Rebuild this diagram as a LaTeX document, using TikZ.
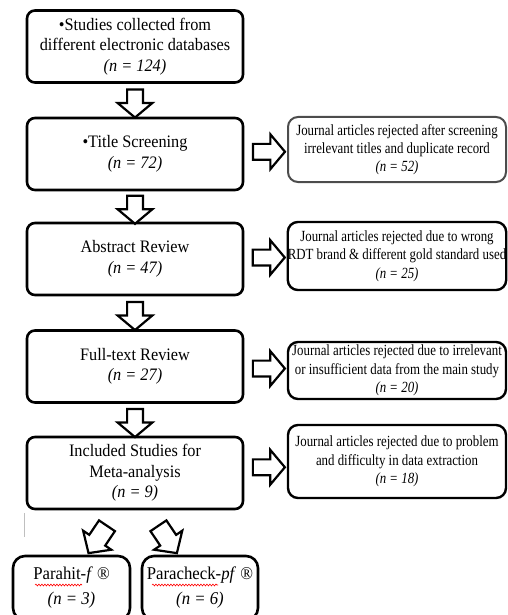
\documentclass[tikz,border=0pt]{standalone}
\usepackage{fontspec}
\usetikzlibrary{shapes.arrows,calc,decorations.pathmorphing}
\newfontfamily\mainfnt{Liberation Serif}[FakeStretch=0.93]
\newfontfamily\sidefnt{Liberation Serif}[FakeStretch=0.83]
\tikzstyle{mainbox}=[draw=black,line width=2.6pt,rounded corners=8pt,
                     minimum width=216pt,minimum height=72pt,inner sep=0pt,
                     align=center,font=\mainfnt\fontsize{17.5}{20.5}\selectfont]
\tikzstyle{sidebox}=[draw=black,line width=2.4pt,rounded corners=10pt,
                     minimum width=218pt,inner sep=0pt,
                     align=center,font=\sidefnt\fontsize{15.5}{18.3}\selectfont]
\tikzstyle{brandbox}=[draw=black,line width=2.6pt,rounded corners=12pt,
                      minimum width=117pt,minimum height=64pt,inner sep=0pt,
                      align=center,font=\mainfnt\fontsize{18}{25}\selectfont]
\tikzstyle{fatarrow}=[single arrow,draw=black,fill=white,line width=2.2pt,
                      inner xsep=0pt,inner ysep=6.8pt,minimum width=0pt,
                      single arrow head extend=9.5pt,single arrow tip angle=100,
                      single arrow head indent=0pt]
\tikzstyle{squiggle}=[draw=red,line width=0.6pt,decorate,
                      decoration={snake,amplitude=0.9pt,segment length=3pt}]

\begin{document}
\begin{tikzpicture}[x=1pt,y=-1pt]
    \newcommand{\mx}{135}
    \newcommand{\sx}{397}
    \clip (0,0) rectangle (508,615);
    % main column
    \node (b1) at (\mx, 46.5) [mainbox]{•Studies collected from\\
      different electronic databases\\\textit{(n = 124)}};
    \node (b2) at (\mx, 154) [mainbox]{•Title Screening\\\textit{(n = 72)}};
    \node (b3) at (\mx, 259) [mainbox]{Abstract Review\\\textit{(n = 47)}};
    \node (b4) at (\mx, 366.5) [mainbox]{Full-text Review\\\textit{(n = 27)}};
    \node (b5) at (\mx, 473) [mainbox]{Included Studies for\\Meta-analysis\\
      \textit{(n = 9)}};
    % excluded records
    \node (r1) at (\sx, 149.5) [sidebox,draw=black!70,line width=2pt,
      minimum height=65pt]{Journal articles rejected after screening\\
      irrelevant titles and duplicate record\\\textit{(n = 52)}};
    \node (r2) at (\sx, 256) [sidebox,minimum height=68pt]{Journal articles
      rejected due to wrong\\RDT brand \& different gold standard used\\
      \textit{(n = 25)}};
    \node (r3) at (\sx, 370.5) [sidebox,minimum height=57pt]{Journal articles
      rejected due to irrelevant\\or insufficient data from the main study\\
      \textit{(n = 20)}};
    \node (r4) at (\sx, 461.5) [sidebox,minimum height=73pt]{Journal articles
      rejected due to problem\\and difficulty in data extraction\\
      \textit{(n = 18)}};
    % RDT brands
    \node (p1) at (71.5, 588) [brandbox]{Parahit-\textit{f} ®\\\textit{(n = 3)}};
    \node (p2) at (200, 588) [brandbox,minimum width=116pt]{Paracheck-\textit{pf} ®\\
      \textit{(n = 6)}};
    \draw[squiggle] (35,585) -- (82,585);
    \draw[squiggle] (152,585) -- (218,585);
    % block arrows
    \node (a1) at ($(b1.south)!0.5!(b2.north)$) [fatarrow,rotate=-90,minimum height=28pt]{};
    \node (a2) at ($(b2.south)!0.5!(b3.north)$) [fatarrow,rotate=-90,minimum height=28pt]{};
    \node (a3) at ($(b3.south)!0.5!(b4.north)$) [fatarrow,rotate=-90,minimum height=28pt]{};
    \node (a4) at ($(b4.south)!0.5!(b5.north)$) [fatarrow,rotate=-90,minimum height=28pt]{};
    \node (e1) at ($(b2.east)!0.5!(r1.west)$) [fatarrow,minimum height=32pt]{};
    \node (e2) at ($(b3.east)!0.5!(r2.west)$) [fatarrow,minimum height=32pt]{};
    \node (e3) at ($(b4.east)!0.5!(r3.west)$) [fatarrow,minimum height=32pt]{};
    \node (e4) at ($(b5.east)!0.5!(r4.west)$) [fatarrow,minimum height=32pt]{};
    \node (d1) at (100.2, 535.8) [fatarrow,rotate=-124,minimum height=33pt,
      inner ysep=8.5pt,single arrow head extend=7.4pt,single arrow tip angle=95]{};
    \node (d2) at (165.2, 535.8) [fatarrow,rotate=-56,minimum height=33pt,
      inner ysep=8.5pt,single arrow head extend=7.4pt,single arrow tip angle=95]{};
    \draw[black!25,line width=0.8pt] (24,513) -- (24,537);
\end{tikzpicture}
\end{document}
